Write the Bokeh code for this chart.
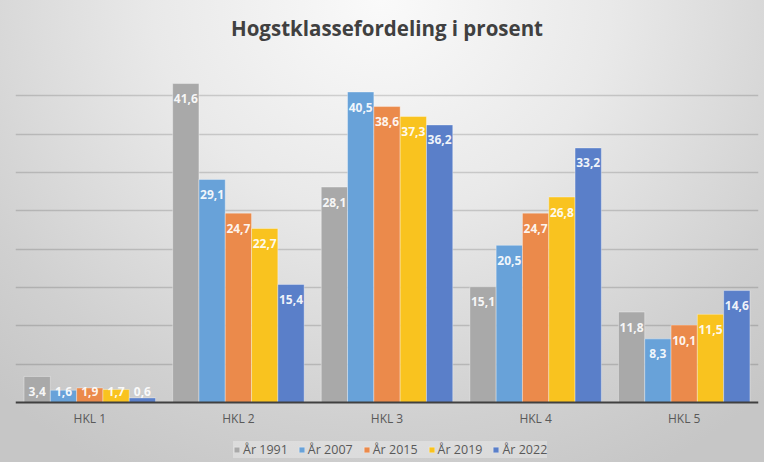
from bokeh.plotting import figure
from bokeh.models import (FactorRange, Range1d, FixedTicker, ColumnDataSource,
                          Legend, LegendItem, Span, Title)
from bokeh.transform import dodge
from bokeh.core.properties import value
from bokeh.embed import file_html
from bokeh.resources import INLINE

# ---- data ----
categories = ["HKL 1", "HKL 2", "HKL 3", "HKL 4", "HKL 5"]
series_names = ["År 1991", "År 2007", "År 2015", "År 2019", "År 2022"]
ar_1991 = [3.4, 41.6, 28.1, 15.1, 11.8]
ar_2007 = [1.6, 29.1, 40.5, 20.5, 8.3]
ar_2015 = [1.9, 24.7, 38.6, 24.7, 10.1]
ar_2019 = [1.7, 22.7, 37.3, 26.8, 11.5]
ar_2022 = [0.6, 15.4, 36.2, 33.2, 14.6]
series_values = [ar_1991, ar_2007, ar_2015, ar_2019, ar_2022]
grid_values = [5, 10, 15, 20, 25, 30, 35, 40, 45]
title_text = "Hogstklassefordeling i prosent"

# ---- style ----
colors = ["#A9A9A9", "#68A2D9", "#EB8A4B", "#F9C31F", "#5A7FC9"]
FONT = "Open Sans"
BAR_W = 0.177
LABEL_MIN = 3.4
Y_MAX = 45
PX_PER_UNIT = 345 / 45.0
BOTTOM_SPACE_PX = 60

p = figure(width=764, height=462, x_range=FactorRange(*categories),
           y_range=Range1d(-BOTTOM_SPACE_PX / PX_PER_UNIT, Y_MAX),
           output_backend="svg", toolbar_location=None,
           min_border_left=15, min_border_right=6, min_border_top=57,
           min_border_bottom=0)

p.styles = {"background": "radial-gradient(ellipse 75% 115% at 50% 0%, #fafafa 0%, #e9e9e9 40%, #d0d0d0 80%, #c6c6c6 100%)"}
p.border_fill_color = None
p.background_fill_color = None
p.outline_line_color = None

p.title.text = title_text
p.title.align = "center"
p.title.text_font = FONT
p.title.text_font_style = "bold"
p.title.text_font_size = "20.5px"
p.title.text_color = "#404040"
p.title.standoff = 4
# blank spacer between the title and the plot area
p.add_layout(Title(text=" ", text_font_size="10px", standoff=1), "above")

p.xaxis.visible = False
p.yaxis.visible = False
p.ygrid.ticker = FixedTicker(ticks=grid_values)
p.ygrid.grid_line_color = "black"
p.ygrid.grid_line_alpha = 0.15
p.ygrid.grid_line_width = 1.3
p.xgrid.grid_line_color = None

renderers = []
for i, (name, vals, col) in enumerate(zip(series_names, series_values, colors)):
    off = (i - 2) * BAR_W
    src = ColumnDataSource(dict(
        cat=categories, val=vals,
        label=[f"{v:.1f}".replace(".", ",") for v in vals],
        ly=[max(v, LABEL_MIN) for v in vals]))
    r = p.vbar(x=dodge("cat", off, range=p.x_range), top="val", bottom=0, width=BAR_W,
               source=src, fill_color=col, line_color="white", line_alpha=0.35,
               line_width=1)
    renderers.append(r)
    p.text(x=dodge("cat", off, range=p.x_range), y="ly", text="label", source=src,
           text_font=value(FONT), text_font_style="bold", text_font_size=value("12px"),
           text_color="white", text_alpha=0.92, text_align="center",
           text_baseline="middle", y_offset=15)

# baseline (category axis line) and category labels
p.add_layout(Span(location=0, dimension="width", line_color="#404040", line_width=1.8))
cat_src = ColumnDataSource(dict(cat=categories, y=[0] * len(categories)))
p.text(x="cat", y="y", text="cat", source=cat_src, text_font=value(FONT),
       text_font_size=value("12px"), text_color="#595959", text_align="center",
       text_baseline="middle", y_offset=16)

legend = Legend(items=[LegendItem(label=n, renderers=[r]) for n, r in zip(series_names, renderers)],
                orientation="horizontal", location=(218, 4),
                glyph_width=7, glyph_height=7, label_standoff=3, spacing=10,
                padding=7, label_height=10, margin=0,
                label_text_font=FONT, label_text_font_size="12.5px",
                label_text_color="#595959",
                background_fill_color="white", background_fill_alpha=0.3,
                border_line_color=None)
p.add_layout(legend, "center")

open("out.html", "w").write(file_html(p, INLINE))
